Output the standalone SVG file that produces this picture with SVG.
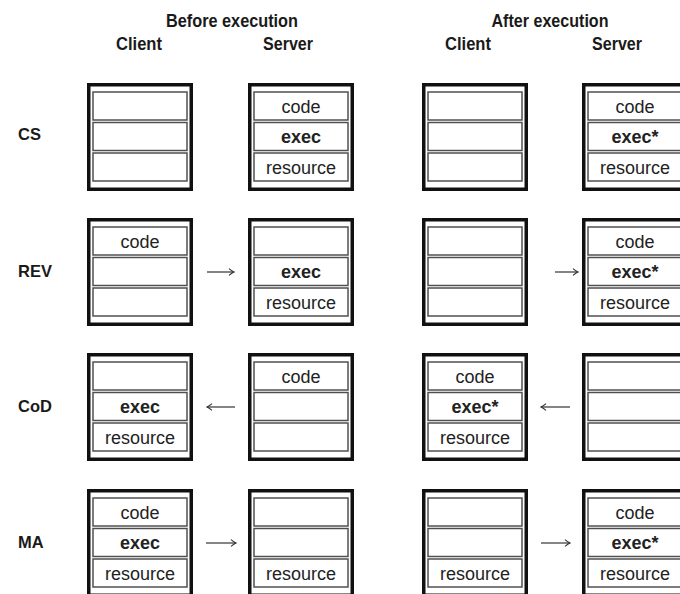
<svg xmlns="http://www.w3.org/2000/svg" xmlns:xlink="http://www.w3.org/1999/xlink" width="680" height="594" viewBox="0 0 680 594">
  <style>
    .box { fill: #fff; stroke: #111; stroke-width: 3.5; }
    .cell { fill: #fff; stroke: #505050; stroke-width: 1.5; }
    .t { font-family: "Liberation Sans", Arial, sans-serif; font-size: 18px; fill: #222; text-anchor: middle; }
    .b { font-weight: bold; }
    .hdr { font-family: "Liberation Sans", Arial, sans-serif; font-size: 17.5px; font-weight: bold; fill: #1a1a1a; text-anchor: middle; }
    .row { font-family: "Liberation Sans", Arial, sans-serif; font-size: 16.5px; font-weight: bold; fill: #1a1a1a; }
    .arrow { stroke: #333; stroke-width: 1.2; fill: none; marker-end: url(#head); }
  </style>
  <defs>
    <marker id="head" markerUnits="userSpaceOnUse" markerWidth="12" markerHeight="12" viewBox="-6 -6 12 12" refX="0" refY="0" orient="auto">
      <path d="M-5,-3.4 Q-2,-0.8 0,0 Q-2,0.8 -5,3.4" stroke="#333" stroke-width="1.1" fill="none"/>
    </marker>
    <!-- a host: thick outer frame holding three slots -->
    <g id="host">
      <rect class="box" x="1.75" y="1.75" width="102.5" height="104.5"/>
      <rect class="cell" x="6" y="9" width="94" height="28"/>
      <rect class="cell" x="6" y="39.5" width="94" height="28"/>
      <rect class="cell" x="6" y="70" width="94" height="28"/>
    </g>
  </defs>

  <rect width="680" height="594" fill="#fff"/>

  <!-- column headings -->
  <g id="headings">
    <text class="hdr" x="232" y="27" textLength="132" lengthAdjust="spacingAndGlyphs">Before execution</text>
    <text class="hdr" x="139" y="50" textLength="46" lengthAdjust="spacingAndGlyphs">Client</text>
    <text class="hdr" x="288" y="50" textLength="50" lengthAdjust="spacingAndGlyphs">Server</text>
    <text class="hdr" x="550" y="27" textLength="117" lengthAdjust="spacingAndGlyphs">After execution</text>
    <text class="hdr" x="468" y="50" textLength="46" lengthAdjust="spacingAndGlyphs">Client</text>
    <text class="hdr" x="617" y="50" textLength="50" lengthAdjust="spacingAndGlyphs">Server</text>
  </g>

  <!-- row labels -->
  <g id="row-labels">
    <text class="row" x="18" y="140">CS</text>
    <text class="row" x="18" y="277">REV</text>
    <text class="row" x="18" y="412">CoD</text>
    <text class="row" x="18" y="548">MA</text>
  </g>

  <!-- CS -->
  <g id="cs-before-client"><use href="#host" x="87" y="83"/></g>
  <g id="cs-before-server">
    <use href="#host" x="248" y="83"/>
    <text class="t" x="301" y="112.5">code</text>
    <text class="t b" x="301" y="143">exec</text>
    <text class="t" x="301" y="173.5">resource</text>
  </g>
  <g id="cs-after-client"><use href="#host" x="422" y="83"/></g>
  <g id="cs-after-server">
    <use href="#host" x="582" y="83"/>
    <text class="t" x="635" y="112.5">code</text>
    <text class="t b" x="635" y="143">exec*</text>
    <text class="t" x="635" y="173.5">resource</text>
  </g>

  <!-- REV -->
  <g id="rev-before-client">
    <use href="#host" x="87" y="218"/>
    <text class="t" x="140" y="247.5">code</text>
  </g>
  <g id="rev-before-server">
    <use href="#host" x="248" y="218"/>
    <text class="t b" x="301" y="278">exec</text>
    <text class="t" x="301" y="308.5">resource</text>
  </g>
  <g id="rev-after-client"><use href="#host" x="422" y="218"/></g>
  <g id="rev-after-server">
    <use href="#host" x="582" y="218"/>
    <text class="t" x="635" y="247.5">code</text>
    <text class="t b" x="635" y="278">exec*</text>
    <text class="t" x="635" y="308.5">resource</text>
  </g>

  <!-- CoD -->
  <g id="cod-before-client">
    <use href="#host" x="87" y="353"/>
    <text class="t b" x="140" y="413">exec</text>
    <text class="t" x="140" y="443.5">resource</text>
  </g>
  <g id="cod-before-server">
    <use href="#host" x="248" y="353"/>
    <text class="t" x="301" y="382.5">code</text>
  </g>
  <g id="cod-after-client">
    <use href="#host" x="422" y="353"/>
    <text class="t" x="475" y="382.5">code</text>
    <text class="t b" x="475" y="413">exec*</text>
    <text class="t" x="475" y="443.5">resource</text>
  </g>
  <g id="cod-after-server"><use href="#host" x="582" y="353"/></g>

  <!-- MA -->
  <g id="ma-before-client">
    <use href="#host" x="87" y="489"/>
    <text class="t" x="140" y="518.5">code</text>
    <text class="t b" x="140" y="549">exec</text>
    <text class="t" x="140" y="579.5">resource</text>
  </g>
  <g id="ma-before-server">
    <use href="#host" x="248" y="489"/>
    <text class="t" x="301" y="579.5">resource</text>
  </g>
  <g id="ma-after-client">
    <use href="#host" x="422" y="489"/>
    <text class="t" x="475" y="579.5">resource</text>
  </g>
  <g id="ma-after-server">
    <use href="#host" x="582" y="489"/>
    <text class="t" x="635" y="518.5">code</text>
    <text class="t b" x="635" y="549">exec*</text>
    <text class="t" x="635" y="579.5">resource</text>
  </g>

  <!-- transfers between client and server -->
  <g id="connectors">
    <line class="arrow" x1="207" y1="272" x2="234" y2="272"/>
    <line class="arrow" x1="555" y1="272" x2="578" y2="272"/>
    <line class="arrow" x1="235" y1="407" x2="207" y2="407"/>
    <line class="arrow" x1="570" y1="407" x2="541" y2="407"/>
    <line class="arrow" x1="206" y1="543" x2="236" y2="543"/>
    <line class="arrow" x1="541" y1="543" x2="570" y2="543"/>
  </g>
</svg>
